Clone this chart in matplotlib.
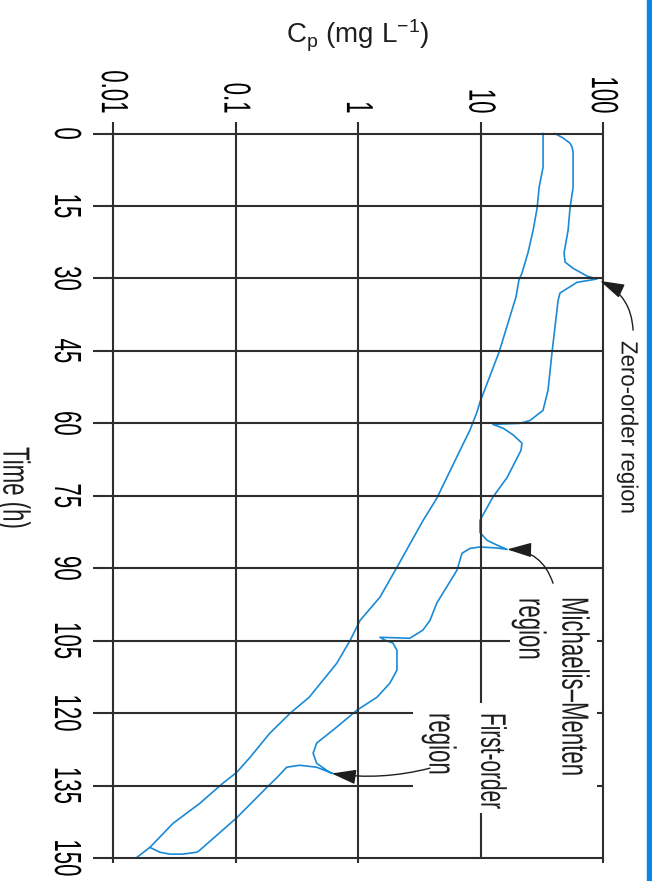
import matplotlib
matplotlib.use("Agg")
import matplotlib.pyplot as plt
from matplotlib.patheffects import AbstractPathEffect
from matplotlib.transforms import Affine2D
from matplotlib.patches import Rectangle
from matplotlib.ticker import NullLocator

# ---------------- data ----------------
time_ticks = [0, 15, 30, 45, 60, 75, 90, 105, 120, 135, 150]
conc_ticks = [0.01, 0.1, 1, 10, 100]
conc_tick_labels = ["0.01", "0.1", "1", "10", "100"]

# smooth (single) curve
curveA_t = [0, 7.0, 11.1, 15.4, 20.0, 24.7, 28.9, 30.3, 33.8, 45.2, 55.6, 57.7,
            61.4, 65.6, 75.5, 80.1, 89.8, 96.0, 100.8, 105.0, 109.7, 116.7,
            120.0, 124.2, 129.2, 132.3, 134.5, 138.7, 142.8, 147.8, 149.9]
curveA_cp = [32.4, 32.4, 30.1, 29.0, 26.9, 24.4, 21.8, 20.6, 19.5, 14.2, 9.9, 9.35,
             8.2, 6.8, 4.4, 3.4, 2.08, 1.51, 1.04, 0.86, 0.67, 0.40,
             0.28, 0.19, 0.131, 0.102, 0.079, 0.051, 0.031, 0.020, 0.0156]

# multiple-dose curve (drawn as one path)
curveB_t = [0.0, 0.9, 2.0, 2.8, 3.8, 11.1, 15.4, 20.0, 24.7, 26.6, 27.9, 29.5, 30.1,
            30.8, 33.0, 34.5, 45.2, 53.1, 57.3, 59.4, 60.0, 60.2, 61.0, 62.4, 64.1, 65.6,
            71.2, 75.3, 80.1, 82.6, 84.2, 85.2, 86.1, 85.8, 85.6, 85.9, 86.9, 90.4,
            97.2, 100.8, 102.8, 104.5, 104.4, 104.3, 104.9, 105.5, 107.0, 111.1,
            113.8, 116.7, 119.4, 122.9, 126.2, 128.3, 130.4, 132.3, 132.5, 131.2,
            130.8, 131.2, 133.4, 135.4, 137.5, 141.7, 148.4, 148.8, 149.2, 149.2,
            148.8, 147.8]
curveB_cp = [40.6, 47.2, 53.8, 55.9, 57.0, 57.0, 53.8, 51.9, 48.1, 49.0, 57.0, 74.1, 89.4,
             61.4, 44.6, 43.0, 38.4, 35.6, 32.4, 25.4, 21.0, 12.6, 15.3, 18.5, 21.8, 21.4,
             16.5, 12.6, 9.9, 9.9, 11.3, 13.6, 16.5, 13.6, 9.9, 8.2, 7.06, 6.43,
             4.4, 3.87, 3.39, 2.65, 2.00, 1.51, 1.66, 1.93, 2.08, 2.08,
             1.82, 1.43, 0.98, 0.67, 0.46, 0.43, 0.46, 0.59, 0.62, 0.46,
             0.335, 0.262, 0.217, 0.180, 0.149, 0.102, 0.051, 0.0484, 0.0372, 0.0291,
             0.0241, 0.020]

# annotation anchor points (conc, time)
zero_tip, zero_tail = (94.6, 30.5), (176.0, 40.7)
mm_tip, mm_tail = (16.5, 86.1), (39.1, 93.1)
fo_tip, fo_tail = (0.61, 132.5), (3.87, 131.4)

# ---------------- style ----------------
W, H = 652, 881
T_TOP = -2.4
BLUE = "#1a8ad6"
GRID = "#2e2e2e"
FONT = ["Liberation Sans", "DejaVu Sans"]
plt.rcParams["font.family"] = FONT
plt.rcParams["mathtext.fontset"] = "custom"
plt.rcParams["mathtext.rm"] = "Liberation Sans"
plt.rcParams["mathtext.it"] = "Liberation Sans:italic"


class Stretch(AbstractPathEffect):
    """Draw glyphs taller (condensed look) about the middle of the cap height."""
    def __init__(self, sy=1.7):
        super().__init__()
        self.sy = sy

    def draw_path(self, renderer, gc, tpath, affine, rgbFace=None):
        pre = Affine2D().translate(0, -36).scale(1, self.sy).translate(0, 36)
        renderer.draw_path(gc, tpath, pre + affine, rgbFace)


def fpx(x, y):
    return x / W, 1 - y / H


fig = plt.figure(figsize=(W / 100, H / 100), dpi=100)
ax = fig.add_axes([113 / W, 1 - 858 / H, 490 / W, (858 - 122) / H])
ax.set_xscale("log")
ax.set_xlim(0.01, 100)
ax.set_ylim(150, T_TOP)
for s in ax.spines.values():
    s.set_visible(False)

# curves
ax.plot(curveA_cp, curveA_t, color=BLUE, lw=1.2, zorder=2)
ax.plot(curveB_cp, curveB_t, color=BLUE, lw=1.2, zorder=2)

# grid (horizontal)
h_end = {105: 17.4, 120: 2.8, 135: 2.8}
for t in time_ticks:
    ax.hlines(t, 0.01, h_end.get(t, 100), color=GRID, lw=1.5, zorder=3, clip_on=False)
    if t in h_end:
        ax.hlines(t, 89, 100, color=GRID, lw=1.5, zorder=3, clip_on=False)
# grid (vertical)
for c in conc_ticks:
    if c == 10:
        ax.vlines(c, T_TOP, 118.0, color=GRID, lw=1.5, zorder=3)
        ax.vlines(c, 140.7, 150, color=GRID, lw=1.5, zorder=3)
    else:
        ax.vlines(c, T_TOP, 151, color=GRID, lw=1.5, zorder=3, clip_on=False)

# ticks
ax.xaxis.set_ticks_position("top")
ax.set_xticks(conc_ticks)
ax.set_xticklabels(conc_tick_labels)
ax.xaxis.set_minor_locator(NullLocator())
ax.tick_params(axis="x", length=0, pad=6, labelsize=16, labelrotation=-90)
ax.set_yticks(time_ticks)
ax.set_yticklabels([str(t) for t in time_ticks])
ax.tick_params(axis="y", direction="out", length=14.4, width=1.5, color=GRID,
               pad=11.8, labelsize=16, labelrotation=-90)
for lab in ax.get_yticklabels():
    lab.set_va("center")
    lab.set_path_effects([Stretch(1.7)])
for lab in ax.get_xticklabels():
    lab.set_path_effects([Stretch(1.7)])

# arrows
arw = dict(arrowstyle="-|>,head_length=1.5,head_width=0.45", color="#1e1e1e",
           lw=1.0, shrinkA=0, shrinkB=0)
ax.annotate("", xy=zero_tip, xytext=zero_tail, annotation_clip=False,
            arrowprops=dict(arw, connectionstyle="arc3,rad=0.3"), zorder=5)
ax.annotate("", xy=mm_tip, xytext=mm_tail, annotation_clip=False,
            arrowprops=dict(arw, connectionstyle="arc3,rad=0.35"), zorder=5)
ax.annotate("", xy=fo_tip, xytext=fo_tail, annotation_clip=False,
            arrowprops=dict(arw, connectionstyle="arc3,rad=-0.1"), zorder=5)


def rtext(s, xc, ytop, size=16, sy=1.7):
    em = size * 100 / 72
    x, y = fpx(xc - 0.36 * em, ytop)
    fig.text(x, y, s, fontsize=size, rotation=-90, rotation_mode="anchor",
             ha="left", va="baseline", color="#1e1e1e",
             path_effects=[Stretch(sy)])


rtext("Zero-order region", 630, 341, size=16, sy=1.05)
rtext("Michaelis\u2013Menten", 576, 597)
rtext("region", 533, 598)
rtext("First-order", 494, 713, size=15)
rtext("region", 443, 713)
rtext("Time (h)", 17, 447)

x, y = fpx(358, 36)
fig.text(x, y, r"C$_\mathrm{p}$ (mg L$^{-1}$)", fontsize=20, ha="center",
         va="center", color="#1e1e1e")

fig.patches.append(Rectangle((647 / W, 0), 5 / W, 1, transform=fig.transFigure,
                             color="#0a84e6", zorder=10))

fig.savefig("out.png", dpi=100)
